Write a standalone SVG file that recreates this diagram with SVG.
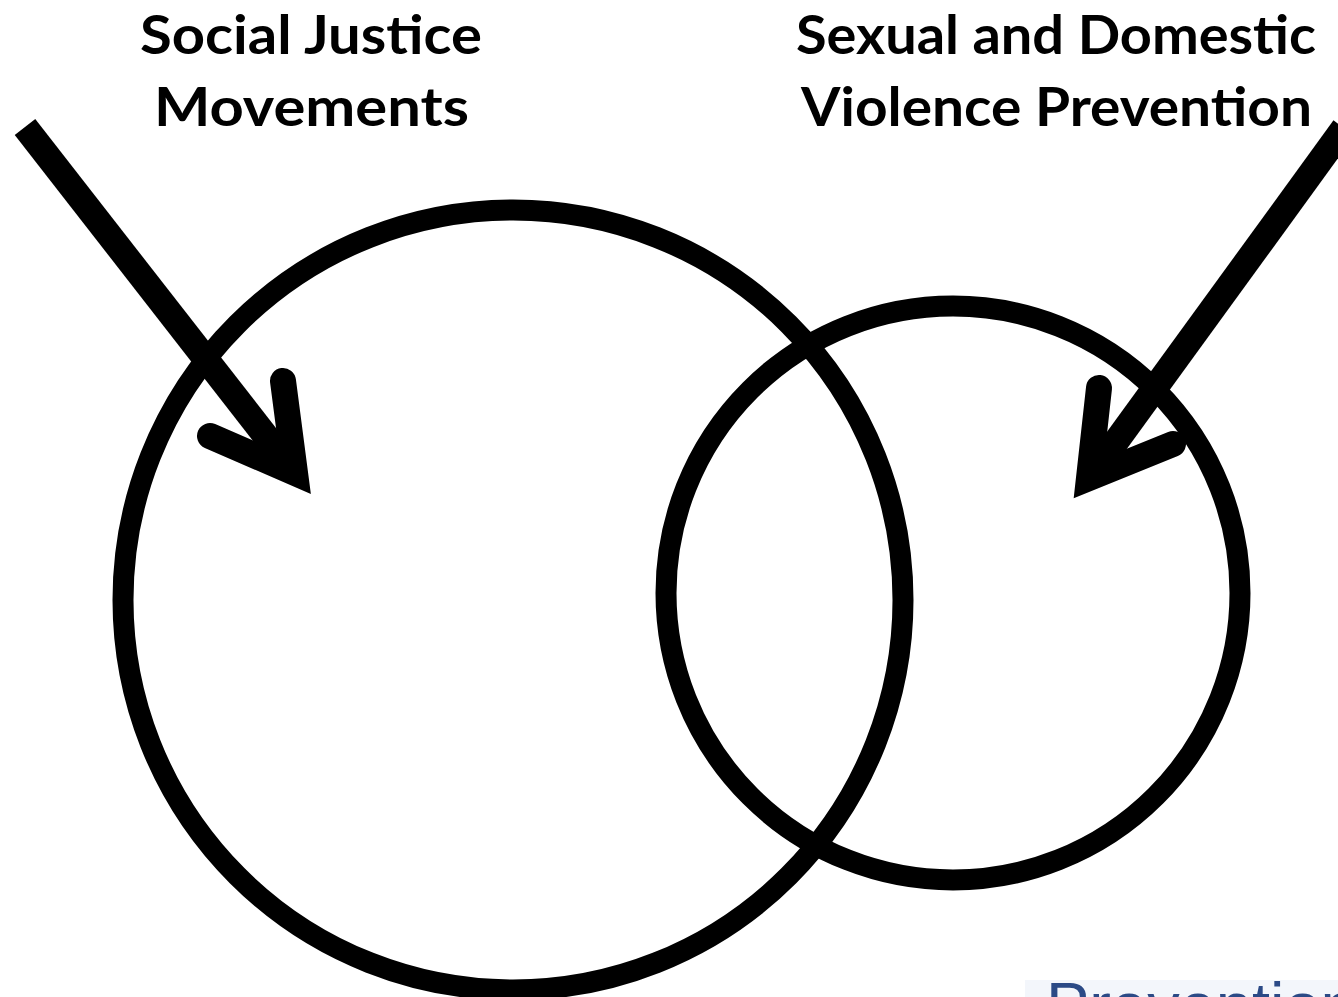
<svg xmlns="http://www.w3.org/2000/svg" width="1338" height="997" viewBox="0 0 1338 997">
  <defs>
    <style>
      .title { font-family: Lato, "Open Sans", "Liberation Sans", sans-serif; font-weight: bold; font-size: 53px; fill: #000; }
      .ring { fill: none; stroke: #000; stroke-width: 21; }
      .shaft { fill: none; stroke: #000; stroke-width: 26; stroke-linecap: butt; }
      .head { fill: none; stroke: #000; stroke-width: 26; stroke-linecap: round; stroke-linejoin: miter; stroke-miterlimit: 6; }
      .footer { font-family: "Liberation Sans", "Open Sans", sans-serif; font-size: 65px; fill: #2b4a86; }
    </style>
  </defs>
  <rect width="1338" height="997" fill="#ffffff"/>

  <g id="circle-social-justice">
    <circle class="ring" cx="513" cy="600" r="390"/>
  </g>
  <g id="circle-violence-prevention">
    <circle class="ring" cx="953" cy="593" r="287"/>
  </g>

  <g id="label-social-justice">
    <text class="title" x="140" y="54" textLength="342" lengthAdjust="spacingAndGlyphs">Social Justice</text>
    <text class="title" x="154" y="126" textLength="315" lengthAdjust="spacingAndGlyphs">Movements</text>
  </g>
  <g id="label-violence-prevention">
    <text class="title" x="796" y="54" textLength="520" lengthAdjust="spacingAndGlyphs">Sexual and Domestic</text>
    <text class="title" x="801" y="126" textLength="511" lengthAdjust="spacingAndGlyphs">Violence Prevention</text>
  </g>

  <g id="connectors">
    <line class="shaft" x1="25" y1="127" x2="293" y2="471"/>
    <path class="head" d="M283,381 L295,473 L210,436"/>
    <line class="shaft" x1="1344" y1="128" x2="1091" y2="476"/>
    <path class="head" d="M1099,388 L1089,478 L1173,444"/>
  </g>

  <g id="footer-fragment">
    <rect x="1025" y="980" width="313" height="17" fill="#f3f6fb"/>
    <text class="footer" x="1046" y="1028">Prevention</text>
  </g>
</svg>
